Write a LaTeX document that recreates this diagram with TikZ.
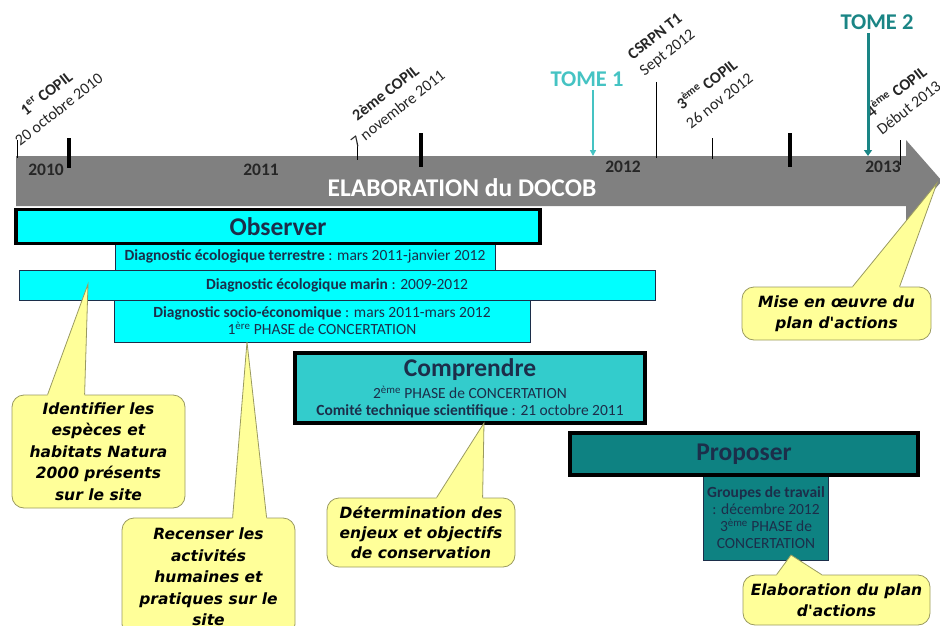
\documentclass[tikz,border=0pt]{standalone}
\usepackage{fontspec}
\setmainfont{Carlito}
\newfontfamily\bullefont{DejaVu Sans}
\usepackage{tikz}
\usetikzlibrary{arrows.meta, calc, positioning}
\usepackage{xcolor}

\definecolor{grisfleche}{HTML}{808080}
\definecolor{cyanobs}{HTML}{00FFFF}
\definecolor{turqcomp}{HTML}{33CCCC}
\definecolor{tealprop}{HTML}{0E8282}
\definecolor{texteboite}{HTML}{1C2E4A}
\definecolor{jaunebulle}{HTML}{FFFF99}
\definecolor{bordbulle}{HTML}{9A9A60}
\definecolor{tomeun}{HTML}{45C3C3}
\definecolor{tomedeux}{HTML}{1A8585}

\tikzset{
  phase/.style={draw=black, line width=3.5pt, text=texteboite, inner sep=0pt,
    font=\fontsize{25.5}{28}\selectfont\bfseries},
  etape/.style={draw=texteboite, line width=0.8pt, text=texteboite, inner sep=0pt,
    align=center, font=\fontsize{15.5}{17}\selectfont},
  bulle/.style={draw=bordbulle, fill=jaunebulle, line width=0.8pt, rounded corners=12pt,
    align=center, inner sep=0pt, font=\bullefont\bfseries\itshape\fontsize{15.5}{21.5}\selectfont},
  pointe/.style={fill=jaunebulle},
  bordpointe/.style={draw=bordbulle, line width=0.8pt},
  jalon/.style={anchor=south west, rotate=38, align=center, inner sep=1pt,
    text=black!85, font=\fontsize{16}{20}\selectfont},
  annee/.style={font=\fontsize{17.5}{18}\selectfont\bfseries, text=black!85},
  tick/.style={line width=0.8pt},
  grostick/.style={line width=3.5pt},
}

\begin{document}
\begin{tikzpicture}[x=1pt, y=-1pt]
    \useasboundingbox (0,0) rectangle (940,626);
    \clip (0,0) rectangle (940,626);

    % fleche du DOCOB
    \fill[grisfleche] (16,156) -- (906,156) -- (906,140) -- (942,181)
        -- (906,222) -- (906,206) -- (16,206) -- cycle;
    \node[text=white, font=\fontsize{25.5}{26}\selectfont\bfseries] (docob) at (462,188) {ELABORATION du DOCOB};
    \coordinate (pointefleche) at (937,183);

    % annees
    \node[annee] (a2010) at (46,170) {2010};
    \node[annee] (a2011) at (261,170) {2011};
    \node[annee] (a2012) at (623,167) {2012};
    \node[annee] (a2013) at (883,167) {2013};

    % graduations
    \draw[tick] (17,140) -- (17,158);
    \draw[grostick] (69,138) -- (69,168);
    \draw[tick] (357,143) -- (357,160);
    \draw[grostick] (421,133) -- (421,167);
    \draw[tick] (656,82) -- (656,158);
    \draw[tick] (712,138) -- (712,159);
    \draw[grostick] (790,133) -- (790,167);
    \draw[tick] (900,140) -- (900,165);

    % jalons
    \node[jalon] (copil1) at (20,148) {\textbf{1\textsuperscript{er} COPIL}\\20 octobre 2010};
    \node[jalon] (copil2) at (356,150) {\textbf{2ème COPIL}\\7 novembre 2011};
    \node[jalon] (csrpn) at (646,80) {\textbf{CSRPN T1}\\Sept 2012};
    \node[jalon] (copil3) at (691,131) {\textbf{3\textsuperscript{ème} COPIL}\\26 nov 2012};
    \node[jalon] (copil4) at (882,137) {\textbf{4\textsuperscript{ème} COPIL}\\Début 2013};

    % tomes
    \node[text=tomeun, font=\fontsize{22.5}{23}\selectfont\bfseries] (tome1) at (587,79) {TOME 1};
    \coordinate (t1bas) at (593,156);
    \draw[tomeun, line width=1.6pt, -{Triangle[length=6pt, width=6pt]}] (t1bas |- tome1.south) -- (t1bas);
    \node[text=tomedeux, font=\fontsize{22.5}{23}\selectfont\bfseries] (tome2) at (877,22) {TOME 2};
    \coordinate (t2bas) at (868,156);
    \draw[tomedeux, line width=3pt, -{Triangle[length=6pt, width=8pt]}] (t2bas |- tome2.south) -- (t2bas);

    % Observer
    \node[etape, fill=cyanobs, minimum width=380pt, minimum height=27pt] (terrestre) at (305,256.5)
        {\textbf{Diagnostic écologique terrestre} : mars 2011-janvier 2012};
    \node[etape, fill=cyanobs, minimum width=636pt, minimum height=30pt] (marin) at (337,285)
        {\textbf{Diagnostic écologique marin} : 2009-2012};
    \node[etape, fill=cyanobs, minimum width=416pt, minimum height=42pt] (socio) at (322,321)
        {\textbf{Diagnostic socio-économique} : mars 2011-mars 2012\\1\textsuperscript{ère} PHASE de CONCERTATION};
    \node[phase, fill=cyanobs, minimum width=524pt, minimum height=34pt] (observer) at (278,226.5) {Observer};

    % Comprendre
    \node[phase, fill=turqcomp, minimum width=350pt, minimum height=70pt, align=center] (comprendre) at (470,388)
        {Comprendre\\[-6pt]
         {\fontsize{15.5}{17}\selectfont\mdseries 2\textsuperscript{ème} PHASE de CONCERTATION}\\[-11pt]
         {\fontsize{15.5}{17}\selectfont\textbf{Comité technique scientifique}\mdseries{} : 21 octobre 2011}};

    % Proposer
    \node[etape, fill=tealprop, minimum width=125pt, minimum height=85pt] (groupes) at (766,517.5)
        {\textbf{Groupes de travail}\\: décembre 2012\\3\textsuperscript{ème} PHASE de\\CONCERTATION};
    \node[phase, fill=tealprop, minimum width=348pt, minimum height=42pt] (proposer) at (744,454) {Proposer};

    % bulles
    \coordinate (cible1) at (88,284);
    \coordinate (cible2) at (247,342);
    \coordinate (cible3) at (484,423);
    \coordinate (cible4) at (791,555);

    \node[bulle, minimum width=173pt, minimum height=113pt] (identifier) at (98.5,451.5)
        {Identifier les\\espèces et\\habitats Natura\\2000 présents\\sur le site};
    \fill[pointe] ($(identifier.north west)+(36,3)$) -- ($(identifier.north west)+(36,0)$) -- (cible1)
        -- ($(identifier.north west)+(73,0)$) -- ($(identifier.north west)+(73,3)$) -- cycle;
    \draw[bordpointe] ($(identifier.north west)+(36,0)$) -- (cible1) -- ($(identifier.north west)+(73,0)$);

    \node[bulle, minimum width=173pt, minimum height=118pt] (recenser) at (208.5,577)
        {Recenser les\\activités\\humaines et\\pratiques sur le\\site};
    \fill[pointe] ($(recenser.north west)+(111,3)$) -- ($(recenser.north west)+(111,0)$) -- (cible2)
        -- ($(recenser.north west)+(145,0)$) -- ($(recenser.north west)+(145,3)$) -- cycle;
    \draw[bordpointe] ($(recenser.north west)+(111,0)$) -- (cible2) -- ($(recenser.north west)+(145,0)$);

    \node[bulle, minimum width=188pt, minimum height=69pt, font=\bullefont\bfseries\itshape\fontsize{15.5}{20}\selectfont] (enjeux) at (421,532.5)
        {Détermination des\\enjeux et objectifs\\de conservation};
    \fill[pointe] ($(enjeux.north west)+(110,3)$) -- ($(enjeux.north west)+(110,0)$) -- (cible3)
        -- ($(enjeux.north west)+(156,0)$) -- ($(enjeux.north west)+(156,3)$) -- cycle;
    \draw[bordpointe] ($(enjeux.north west)+(110,0)$) -- (cible3) -- ($(enjeux.north west)+(156,0)$);

    \node[bulle, minimum width=187pt, minimum height=50pt] (elaboration) at (836.5,600)
        {Elaboration du plan\\d'actions};
    \fill[pointe] ($(elaboration.north west)+(34,3)$) -- ($(elaboration.north west)+(34,0)$) -- (cible4)
        -- ($(elaboration.north west)+(79,0)$) -- ($(elaboration.north west)+(79,3)$) -- cycle;
    \draw[bordpointe] ($(elaboration.north west)+(34,0)$) -- (cible4) -- ($(elaboration.north west)+(79,0)$);

    \node[bulle, minimum width=189pt, minimum height=53pt] (oeuvre) at (836.5,313.5)
        {Mise en œuvre du\\plan d'actions};
    \fill[pointe] ($(oeuvre.north west)+(111,3)$) -- ($(oeuvre.north west)+(111,0)$) -- (pointefleche)
        -- ($(oeuvre.north west)+(158,0)$) -- ($(oeuvre.north west)+(158,3)$) -- cycle;
    \draw[bordpointe] ($(oeuvre.north west)+(111,0)$) -- (pointefleche) -- ($(oeuvre.north west)+(158,0)$);
\end{tikzpicture}
\end{document}
